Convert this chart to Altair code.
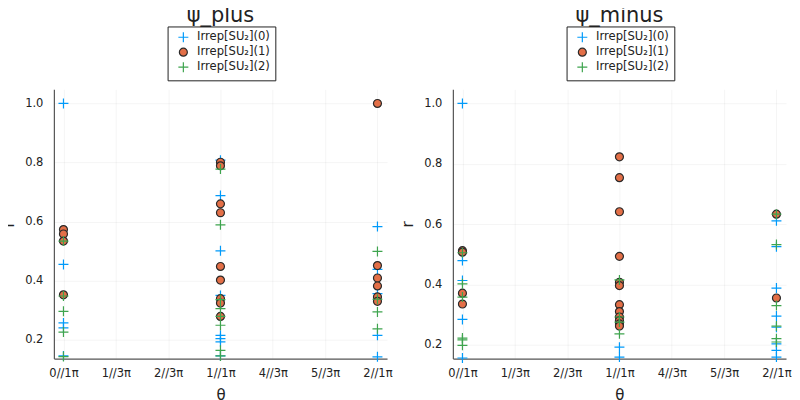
import altair as alt
import pandas as pd

SERIES = ["Irrep[SU₂](0)", "Irrep[SU₂](1)", "Irrep[SU₂](2)"]
STROKES = ["#009AFA", "#2a2a2a", "#3EA44E"]
FILLS = ["transparent", "#E36F47", "transparent"]
PLUS = "M-1.25,0L1.25,0M0,-1.25L0,1.25"
SHAPES = [PLUS, "circle", PLUS]

THETA_TICKS = [0, 1/3, 2/3, 1, 4/3, 5/3, 2]
THETA_LABELS = ["0//1π", "1//3π", "2//3π", "1//1π", "4//3π", "5//3π", "2//1π"]
R_TICKS = [0.2, 0.4, 0.6, 0.8, 1.0]

# ψ_plus  (theta in units of π)
plus_s0_t0 = [1.0, 0.455, 0.257, 0.240, 0.145]
plus_s1_t0 = [0.573, 0.558, 0.534, 0.352]
plus_s2_t0 = [0.534, 0.348, 0.296, 0.226, 0.143]
plus_s0_t1 = [0.808, 0.688, 0.501, 0.350, 0.215, 0.204, 0.193, 0.145]
plus_s1_t1 = [0.801, 0.789, 0.660, 0.630, 0.448, 0.402, 0.339, 0.324, 0.279]
plus_s2_t1 = [0.778, 0.589, 0.336, 0.305, 0.279, 0.249, 0.164, 0.145]
plus_s0_t2 = [0.583, 0.438, 0.356, 0.215, 0.142]
plus_s1_t2 = [1.0, 0.451, 0.409, 0.382, 0.345, 0.330]
plus_s2_t2 = [0.499, 0.337, 0.294, 0.237]

# ψ_minus
minus_s0_t0 = [1.0, 0.479, 0.413, 0.284, 0.156]
minus_s1_t0 = [0.512, 0.507, 0.371, 0.335]
minus_s2_t0 = [0.505, 0.402, 0.358, 0.222, 0.216, 0.198]
minus_s0_t1 = [0.192, 0.159]
minus_s1_t1 = [0.823, 0.754, 0.641, 0.493, 0.407, 0.396, 0.333, 0.310, 0.292, 0.280, 0.269, 0.262]
minus_s2_t1 = [0.415, 0.292, 0.275, 0.236]
minus_s0_t2 = [0.611, 0.525, 0.388, 0.295, 0.258, 0.203, 0.181, 0.159]
minus_s1_t2 = [0.633, 0.355]
minus_s2_t2 = [0.633, 0.532, 0.330, 0.262, 0.220, 0.209]


def rows(groups):
    out = []
    for s in range(3):
        for theta, vals in groups[s]:
            for v in vals:
                out.append({"theta": theta, "series": SERIES[s], "r": v, "order": s})
    return pd.DataFrame(out)


plus_df = rows([
    [(0, plus_s0_t0), (1, plus_s0_t1), (2, plus_s0_t2)],
    [(0, plus_s1_t0), (1, plus_s1_t1), (2, plus_s1_t2)],
    [(0, plus_s2_t0), (1, plus_s2_t1), (2, plus_s2_t2)],
])
minus_df = rows([
    [(0, minus_s0_t0), (1, minus_s0_t1), (2, minus_s0_t2)],
    [(0, minus_s1_t0), (1, minus_s1_t1), (2, minus_s1_t2)],
    [(0, minus_s2_t0), (1, minus_s2_t1), (2, minus_s2_t2)],
])

label_arr = "[" + ",".join("'%s'" % l for l in THETA_LABELS) + "]"
FONT = "DejaVu Sans"


def panel(df, title, ydom, lx):
    leg = alt.Legend(
        title=None, orient="none", legendX=lx, legendY=-63,
        strokeColor="#222", fillColor="white", padding=5, cornerRadius=0,
        labelFontSize=11.6, labelFont=FONT, labelColor="#222", rowPadding=0, symbolSize=64,
        symbolStrokeWidth=1.2, labelOffset=8, symbolOffset=5,
    )
    return alt.Chart(df).mark_point(filled=True, opacity=1, strokeWidth=1.2, size=64).encode(
        x=alt.X("theta:Q", scale=alt.Scale(domain=[-0.061, 2.061], nice=False, zero=False),
                axis=alt.Axis(values=THETA_TICKS, labelExpr=label_arr + "[round(datum.value*3)]",
                              title="θ", labelPadding=9, titlePadding=8)),
        y=alt.Y("r:Q", scale=alt.Scale(domain=ydom, nice=False, zero=False),
                axis=alt.Axis(values=R_TICKS, format=".1f", title="r", labelPadding=11,
                              titlePadding=8)),
        fill=alt.Fill("series:N", scale=alt.Scale(domain=SERIES, range=FILLS), legend=leg),
        stroke=alt.Stroke("series:N", scale=alt.Scale(domain=SERIES, range=STROKES), legend=leg),
        shape=alt.Shape("series:N", scale=alt.Scale(domain=SERIES, range=SHAPES), legend=leg),
        order=alt.Order("order:Q"),
    ).properties(
        width=334, height=270,
        title=alt.TitleParams(title, fontSize=21, font=FONT, fontWeight="normal", color="#222",
                              anchor="middle", offset=0),
    )


left = panel(plus_df, "ψ_plus", [0.136, 1.048], 114)
right = panel(minus_df, "ψ_minus", [0.154, 1.047], 114)

chart = alt.hconcat(left, right, spacing=7).resolve_legend(
    fill="independent", stroke="independent", shape="independent"
).properties(
    padding={"left": -7, "top": -4, "right": 0, "bottom": 0}, background="white"
).configure_view(stroke=None).configure_axis(
    labelFont=FONT, labelFontSize=11.5, labelColor="#222",
    titleFont=FONT, titleFontSize=15, titleFontWeight="normal", titleColor="#222",
    ticks=False,
    domainColor="#555", domainWidth=1.2,
    gridColor="#000", gridOpacity=0.08, gridWidth=0.6,
)

chart.save("out.html", embed_options={"renderer": "svg", "actions": False})
